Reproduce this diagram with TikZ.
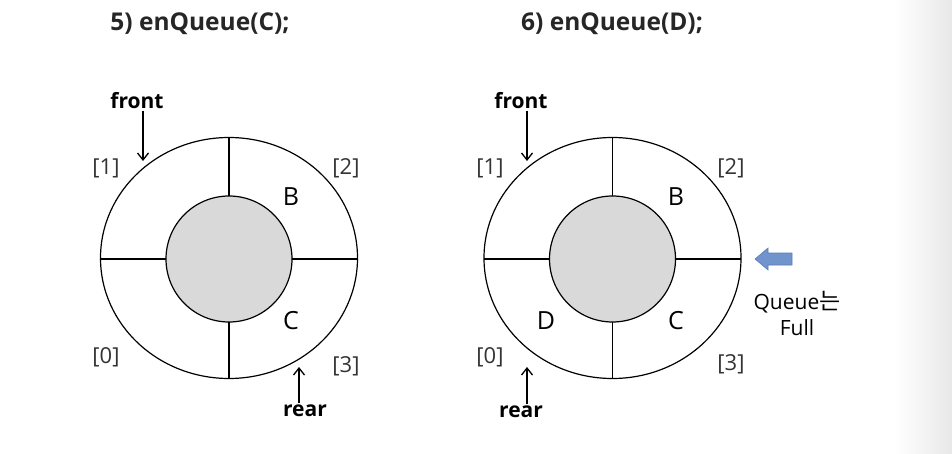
\documentclass[tikz,border=0pt]{standalone}
\usepackage{fontspec}
\setmainfont{Open Sans}
\newfontfamily\krfont{Noto Sans CJK KR}
\usetikzlibrary{arrows.meta}
\definecolor{ringgray}{HTML}{D9D9D9}
\definecolor{arrowblue}{HTML}{7094CB}
\definecolor{arrowedge}{HTML}{5B7DB8}
\tikzset{
  title/.style={font=\bfseries\fontsize{24.5}{28}\selectfont, text=black!85},
  ptr/.style={font=\bfseries\fontsize{21}{24}\selectfont, inner sep=1pt},
  idx/.style={font=\fontsize{22}{25}\selectfont, text=black!80},
  cell/.style={font=\fontsize{25}{28}\selectfont},
}
\begin{document}
\begin{tikzpicture}[x=1pt,y=-1pt,>={Straight Barb[length=7pt,width=11pt]},line width=1.2pt]
	  \useasboundingbox (0,0) rectangle (952,454);
	  \shade[left color=white,right color=black!9] (895,0) rectangle (952,454);
	  % 5) enQueue(C)
	  \node[title] (t1) at (200,24) {5) enQueue(C);};
	  \draw (229,258) ellipse [x radius=128.5, y radius=120.5];
	  \draw[fill=ringgray] (229,259) circle (63);
	  \draw (229,137.5) -- (229,196);
	  \draw (229,322) -- (229,378.5);
	  \draw (100.5,259) -- (166,259);
	  \draw (292,259) -- (357.5,259);
	  \node[idx] (i10) at (106,357) {[0]};
	  \node[idx] (i11) at (106,168) {[1]};
	  \node[idx] (i12) at (346,168) {[2]};
	  \node[idx] (i13) at (346,366) {[3]};
	  \node[cell] (b1) at (291,197) {B};
	  \node[cell] (c1) at (291,321) {C};
	  \node[ptr] (f1) at (137,101) {front};
	  \node[ptr] (r1) at (305,411) {rear};
	  \coordinate (fa1) at (143,161);
	  \coordinate (ra1) at (299,367);
	  \draw[->,line width=1.3pt] (f1.south -| fa1) -- (fa1);
	  \draw[->,line width=1.3pt] (r1.north -| ra1) -- (ra1);
	  % 6) enQueue(D)
	  \node[title] (t2) at (612,24) {6) enQueue(D);};
	  \draw (612.5,258) ellipse [x radius=128.5, y radius=120.5];
	  \draw[fill=ringgray] (612.5,259) circle (63);
	  \draw (612.5,137.5) -- (612.5,196);
	  \draw (612.5,322) -- (612.5,378.5);
	  \draw (484,259) -- (549.5,259);
	  \draw (675.5,259) -- (741,259);
	  \node[idx] (i20) at (490,357) {[0]};
	  \node[idx] (i21) at (490,168) {[1]};
	  \node[idx] (i22) at (731,168) {[2]};
	  \node[idx] (i23) at (731,364) {[3]};
	  \node[cell] (b2) at (676,197) {B};
	  \node[cell] (c2) at (676,321) {C};
	  \node[cell] (d2) at (546,321) {D};
	  \node[ptr] (f2) at (521,101) {front};
	  \node[ptr] (r2) at (521,412) {rear};
	  \coordinate (fa2) at (527,161);
	  \coordinate (ra2) at (527,367);
	  \draw[->,line width=1.3pt] (f2.south -| fa2) -- (fa2);
	  \draw[->,line width=1.3pt] (r2.north -| ra2) -- (ra2);
	  % full marker
	  \draw[fill=arrowblue,draw=arrowedge,line width=0.6pt]
	    (755,259) -- (768,248) -- (768,253) -- (792,253) -- (792,265) -- (768,265) -- (768,270) -- cycle;
	  \node[cell, align=center, font=\fontsize{21}{26}\selectfont] (full) at (797,313) {Queue{\krfont\fontsize{23}{26}\selectfont 는}\\Full};
	\end{tikzpicture}
\end{document}
